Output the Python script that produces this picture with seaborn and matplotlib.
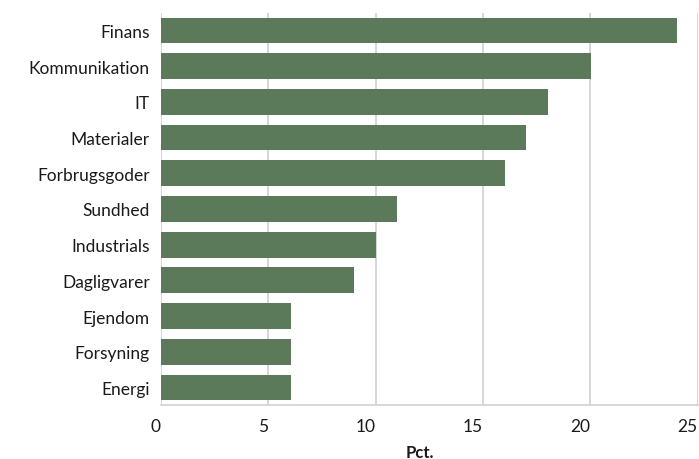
import pandas as pd
import numpy as np
from matplotlib import pyplot as plt
import seaborn as sns

sektorer = ['Finans', 'Kommunikation', 'IT', 'Materialer', 'Forbrugsgoder', 'Sundhed',
            'Industrials', 'Dagligvarer', 'Ejendom', 'Forsyning', 'Energi']
andel = [24.05, 20.05, 18.05, 17.0, 16.05, 11.0, 10.0, 9.0, 6.05, 6.05, 6.05]
xticks = [0, 5, 10, 15, 20, 25]

df = pd.DataFrame({'sektor': sektorer, 'pct': andel})

sns.set_style('white')
plt.rcParams['font.family'] = ['Lato', 'DejaVu Sans']

fig = plt.figure(figsize=(6.99, 4.6), dpi=100)
ax = fig.add_axes([0.230, 0.117, 0.768, 0.853])
sns.barplot(data=df, x='pct', y='sektor', color='#5b7a5a', saturation=1,
            width=0.72, linewidth=0, ax=ax, zorder=3)

ax.set_xlim(0, 25)
ax.set_ylim(10.5, -0.5)
ax.set_xticks(xticks)
ax.grid(axis='x', color='#d0d0d0', linewidth=1.2, zorder=0)
ax.grid(axis='y', visible=False)
for s in ['top', 'right', 'left']:
    ax.spines[s].set_visible(False)
ax.spines['bottom'].set_color('#d0d0d0')
ax.spines['bottom'].set_linewidth(1.2)
ax.tick_params(axis='both', length=0, labelsize=12.5, colors='#1a1a1a')
ax.tick_params(axis='y', pad=8)
ax.tick_params(axis='x', pad=9)
for t in ax.get_xticklabels():
    t.set_ha('right')
ax.set_ylabel('')
ax.set_xlabel('Pct.', fontsize=12, fontweight='bold', color='#1a1a1a')
ax.xaxis.set_label_coords(0.482, -0.1)

plt.savefig('out.png', dpi=100)
